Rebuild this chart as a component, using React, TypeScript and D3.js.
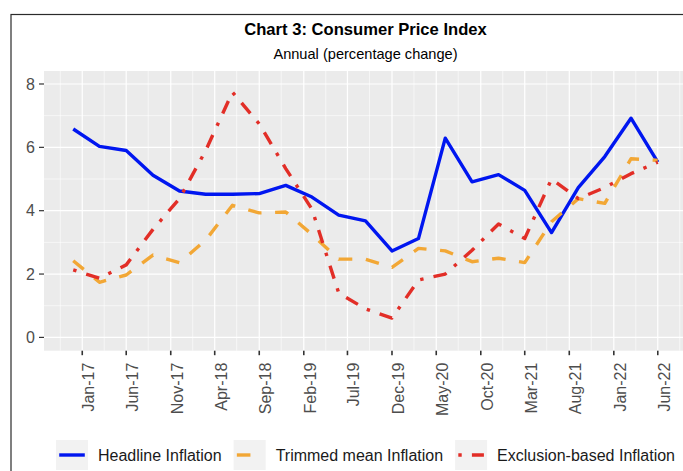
import { useRef, useEffect } from "react";
import * as d3 from "d3";

// quarterly observations
const periods = [
  "Dec-16", "Mar-17", "Jun-17", "Sep-17", "Dec-17", "Mar-18", "Jun-18", "Sep-18",
  "Dec-18", "Mar-19", "Jun-19", "Sep-19", "Dec-19", "Mar-20", "Jun-20", "Sep-20",
  "Dec-20", "Mar-21", "Jun-21", "Sep-21", "Dec-21", "Mar-22", "Jun-22",
];

const headline = [
  6.58, 6.03, 5.9, 5.12, 4.62, 4.52, 4.52, 4.54, 4.8, 4.43, 3.86, 3.68, 2.73, 3.12,
  6.29, 4.91, 5.14, 4.64, 3.31, 4.73, 5.71, 6.92, 5.53,
];
const trimmedMean = [
  2.42, 1.74, 1.97, 2.6, 2.36, 3.07, 4.17, 3.93, 3.96, 3.25, 2.47, 2.47, 2.21, 2.81,
  2.73, 2.39, 2.5, 2.36, 3.65, 4.38, 4.23, 5.64, 5.59,
];
const exclusionBased = [
  2.13, 1.87, 2.29, 3.41, 4.38, 5.9, 7.74, 6.74, 5.33, 4.05, 1.4, 0.9, 0.61, 1.81,
  2.0, 2.75, 3.58, 3.12, 5.0, 4.38, 4.73, 5.17, 5.53,
];

const xTickLabels = [
  "Jan-17", "Jun-17", "Nov-17", "Apr-18", "Sep-18", "Feb-19", "Jul-19",
  "Dec-19", "May-20", "Oct-20", "Mar-21", "Aug-21", "Jan-22", "Jun-22",
];
const yTicks = [0, 2, 4, 6, 8];
const yMinor = [1, 3, 5, 7];

const seriesNames = ["Headline Inflation", "Trimmed mean Inflation", "Exclusion-based Inflation"];
const seriesValues = [headline, trimmedMean, exclusionBased];
const seriesColors = ["#0016F0", "#F2A735", "#E22E27"];

const FONT = "'Liberation Sans', Arial, Helvetica, sans-serif";

type Pt = { date: Date; value: number };

export default function App() {
  const ref = useRef<SVGSVGElement>(null);
  const width = 683;
  const height = 471;

  useEffect(() => {
    if (!ref.current) return;
    const svg = d3.select(ref.current);
    svg.selectAll("*").remove();

    const parse = d3.timeParse("%b-%y");
    const dates = periods.map((p) => parse(p) as Date);
    const tickDates = xTickLabels.map((p) => parse(p) as Date);
    const lw = 3.4;

    const panel = { left: 44, right: 687, top: 71, bottom: 350.7 };

    // ggplot-like 5% expansion of the date range
    const [d0, d1] = d3.extent(dates) as [Date, Date];
    const span = +d1 - +d0;
    const x = d3
      .scaleTime()
      .domain([new Date(+d0 - span * 0.05), new Date(+d1 + span * 0.05)])
      .range([panel.left, panel.right]);
    const y = d3.scaleLinear().domain([-0.42, 8.41]).range([panel.bottom, panel.top]);

    svg.append("rect").attr("width", width).attr("height", height).attr("fill", "#fff");

    // outer frame
    svg
      .append("rect")
      .attr("x", 11)
      .attr("y", 14.5)
      .attr("width", 720)
      .attr("height", 500)
      .attr("fill", "none")
      .attr("stroke", "#2b2b2b")
      .attr("stroke-width", 1.2);

    // titles
    const cx = (panel.left + panel.right) / 2;
    svg
      .append("text")
      .attr("x", cx)
      .attr("y", 35)
      .attr("text-anchor", "middle")
      .attr("font-family", FONT)
      .attr("font-weight", "bold")
      .attr("font-size", 16.6)
      .text("Chart 3: Consumer Price Index");
    svg
      .append("text")
      .attr("x", cx)
      .attr("y", 59)
      .attr("text-anchor", "middle")
      .attr("font-family", FONT)
      .attr("font-size", 14.6)
      .text("Annual (percentage change)");

    // panel
    svg
      .append("rect")
      .attr("x", panel.left)
      .attr("y", panel.top)
      .attr("width", panel.right - panel.left)
      .attr("height", panel.bottom - panel.top)
      .attr("fill", "#EBEBEB");

    const grid = svg.append("g");
    // minor gridlines
    const step = (+tickDates[1] - +tickDates[0]) / 2;
    const minorX: Date[] = [new Date(+tickDates[0] - step)];
    tickDates.forEach((t) => minorX.push(new Date(+t + step)));
    grid
      .selectAll("line.mx")
      .data(minorX.filter((d) => x(d) > panel.left && x(d) < panel.right))
      .join("line")
      .attr("x1", (d) => x(d))
      .attr("x2", (d) => x(d))
      .attr("y1", panel.top)
      .attr("y2", panel.bottom)
      .attr("stroke", "#fff")
      .attr("stroke-width", 0.6);
    grid
      .selectAll("line.my")
      .data(yMinor)
      .join("line")
      .attr("x1", panel.left)
      .attr("x2", panel.right)
      .attr("y1", (d) => y(d))
      .attr("y2", (d) => y(d))
      .attr("stroke", "#fff")
      .attr("stroke-width", 0.6);
    // major gridlines
    grid
      .selectAll("line.Mx")
      .data(tickDates)
      .join("line")
      .attr("x1", (d) => x(d))
      .attr("x2", (d) => x(d))
      .attr("y1", panel.top)
      .attr("y2", panel.bottom)
      .attr("stroke", "#fff")
      .attr("stroke-width", 1.2);
    grid
      .selectAll("line.My")
      .data(yTicks)
      .join("line")
      .attr("x1", panel.left)
      .attr("x2", panel.right)
      .attr("y1", (d) => y(d))
      .attr("y2", (d) => y(d))
      .attr("stroke", "#fff")
      .attr("stroke-width", 1.2);

    // series
    const line = d3
      .line<Pt>()
      .x((d) => x(d.date))
      .y((d) => y(d.value));
    const dashes = ["", `${4 * lw},${4 * lw}`, `${lw},${3 * lw},${4 * lw},${3 * lw}`];

    seriesValues.forEach((vals, i) => {
      const pts: Pt[] = vals.map((v, j) => ({ date: dates[j], value: v }));
      svg
        .append("path")
        .datum(pts)
        .attr("fill", "none")
        .attr("stroke", seriesColors[i])
        .attr("stroke-width", lw)
        .attr("stroke-linejoin", "round")
        .attr("stroke-dasharray", dashes[i] || null)
        .attr("d", line);
    });

    // y axis
    const yAxis = svg.append("g");
    yAxis
      .selectAll("line")
      .data(yTicks)
      .join("line")
      .attr("x1", panel.left - 5)
      .attr("x2", panel.left)
      .attr("y1", (d) => y(d))
      .attr("y2", (d) => y(d))
      .attr("stroke", "#333")
      .attr("stroke-width", 1.2);
    yAxis
      .selectAll("text")
      .data(yTicks)
      .join("text")
      .attr("x", panel.left - 9)
      .attr("y", (d) => y(d))
      .attr("dy", "0.36em")
      .attr("text-anchor", "end")
      .attr("font-family", FONT)
      .attr("font-size", 16)
      .attr("fill", "#4D4D4D")
      .text((d) => d);

    // x axis
    const xAxis = svg.append("g");
    xAxis
      .selectAll("line")
      .data(tickDates)
      .join("line")
      .attr("x1", (d) => x(d))
      .attr("x2", (d) => x(d))
      .attr("y1", panel.bottom)
      .attr("y2", panel.bottom + 4.5)
      .attr("stroke", "#333")
      .attr("stroke-width", 1.6);
    xAxis
      .selectAll("text")
      .data(tickDates)
      .join("text")
      .attr("transform", (d) => `translate(${x(d)},${panel.bottom + 12}) rotate(-90)`)
      .attr("x", 0)
      .attr("y", 12)
      .attr("text-anchor", "end")
      .attr("font-family", FONT)
      .attr("font-size", 16)
      .attr("fill", "#4D4D4D")
      .text((_, i) => xTickLabels[i]);

    // legend
    const legend = svg.append("g");
    const keyW = 32;
    const keyH = 30;
    const ly = 455;
    const texts = seriesNames.map((n) =>
      legend
        .append("text")
        .attr("font-family", FONT)
        .attr("font-size", 16)
        .attr("fill", "#1A1A1A")
        .attr("dy", "0.36em")
        .attr("y", ly)
        .text(n)
    );
    const widths = texts.map((t) => (t.node() as SVGTextElement).getComputedTextLength());
    const total = d3.sum(widths) + seriesNames.length * (keyW + 10) + (seriesNames.length - 1) * 12;
    let lx = cx - total / 2;
    seriesNames.forEach((_, i) => {
      legend
        .insert("rect", "text")
        .attr("x", lx)
        .attr("y", ly - keyH / 2)
        .attr("width", keyW)
        .attr("height", keyH)
        .attr("fill", "#F2F2F2");
      legend
        .append("line")
        .attr("x1", lx + keyW * 0.1)
        .attr("x2", lx + keyW * 0.9)
        .attr("y1", ly)
        .attr("y2", ly)
        .attr("stroke", seriesColors[i])
        .attr("stroke-width", lw)
        .attr("stroke-dasharray", dashes[i] || null);
      texts[i].attr("x", lx + keyW + 10);
      lx += keyW + 10 + widths[i] + 12;
    });
  }, []);

  return (
    <svg
      ref={ref}
      width={width}
      height={height}
      style={{ position: "absolute", left: 0, top: 0 }}
    />
  );
}
